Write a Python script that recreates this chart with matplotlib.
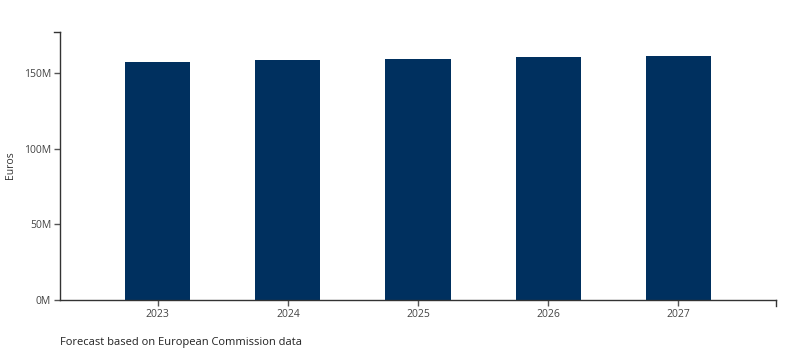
import matplotlib.pyplot as plt

years = ['2023', '2024', '2025', '2026', '2027']
values = [157.7, 158.9, 159.7, 160.6, 161.5]  # million euros
y_ticks = [0, 50, 100, 150]
y_tick_labels = ['0M', '50M', '100M', '150M']

plt.rcParams['font.family'] = ['Open Sans', 'DejaVu Sans']

fig = plt.figure(figsize=(7.96, 3.56), dpi=100)
ax = fig.add_axes([60 / 796, 56 / 356, 716 / 796, 268.3 / 356])

xs = list(range(len(years)))
ax.bar(xs, values, width=0.5, color='#00305f')

ax.set_xlim(-0.75, len(years) - 0.25)
ax.set_ylim(0, max(values) * 1.1)
ax.set_xticks(xs)
ax.set_xticklabels(years)
ax.set_yticks(y_ticks)
ax.set_yticklabels(y_tick_labels)

for s in ['top', 'right']:
    ax.spines[s].set_visible(False)
for s in ['left', 'bottom']:
    ax.spines[s].set_color('#333333')
    ax.spines[s].set_linewidth(1)

ax.tick_params(axis='both', length=4.3, width=1, color='#555555',
               labelsize=7.5, labelcolor='#444444', pad=2)

# d3-style outer ticks at the domain ends
ax.plot([0, -0.0084], [1, 1], transform=ax.transAxes, color='#333333', lw=1, clip_on=False)
ax.plot([1, 1], [0, -0.022], transform=ax.transAxes, color='#333333', lw=1, clip_on=False)

fig.text(10 / 796, 1 - 165 / 356, 'Euros', rotation=90, ha='center', va='center',
         fontsize=7.5, color='#333333')
fig.text(60 / 796, 1 - 342 / 356, 'Forecast based on European Commission data',
         ha='left', va='center', fontsize=8, color='#222222')

fig.savefig('out.png', dpi=100)
